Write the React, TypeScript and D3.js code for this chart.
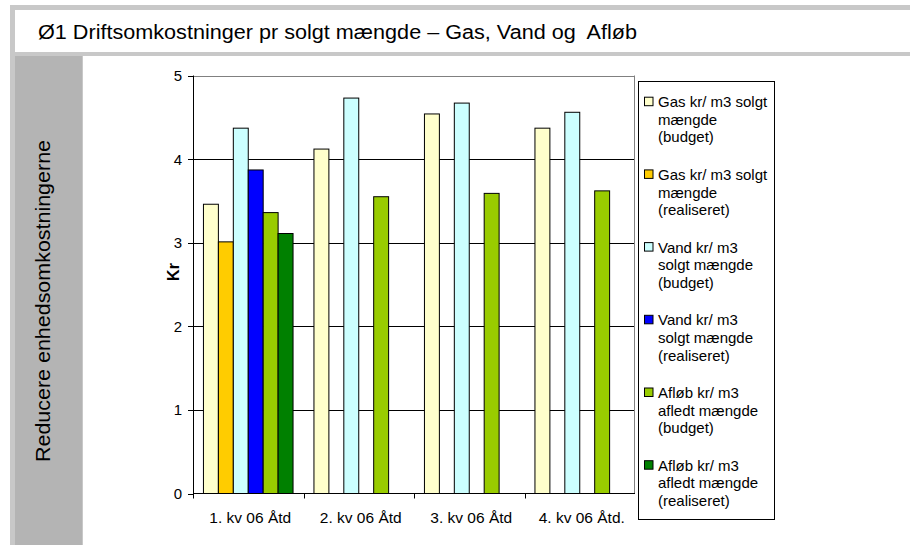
import * as d3 from 'd3';

const categories = ['1. kv 06 Åtd', '2. kv 06 Åtd', '3. kv 06 Åtd', '4. kv 06 Åtd.'];

const seriesNames = [
  ['Gas kr/ m3 solgt', 'mængde', '(budget)'],
  ['Gas kr/ m3 solgt', 'mængde', '(realiseret)'],
  ['Vand kr/ m3', 'solgt mængde', '(budget)'],
  ['Vand kr/ m3', 'solgt mængde', '(realiseret)'],
  ['Afløb kr/ m3', 'afledt mængde', '(budget)'],
  ['Afløb kr/ m3', 'afledt mængde', '(realiseret)'],
];

const seriesColors = ['#FFFFCC', '#FFCC00', '#CCFFFF', '#0000FF', '#99CC00', '#008000'];

// one array per series, null = no value for that quarter
const gasBudget = [3.46, 4.12, 4.54, 4.37];
const gasReal = [3.01, null, null, null];
const vandBudget = [4.37, 4.73, 4.67, 4.56];
const vandReal = [3.87, null, null, null];
const aflobBudget = [3.36, 3.55, 3.59, 3.62];
const aflobReal = [3.11, null, null, null];

const seriesValues = [gasBudget, gasReal, vandBudget, vandReal, aflobBudget, aflobReal];

const yTicks = [0, 1, 2, 3, 4, 5];

const FONT = 'Liberation Sans, Arial, sans-serif';

export default function App() {
  const W = 910;
  const H = 545;

  // ─── Plot area ───────────────────────────────
  const left = 193;
  const right = 635;
  const top = 75.5;
  const bottom = 493.5;

  const x = d3.scaleBand<string>().domain(categories).range([left, right]);
  const xInner = d3
    .scaleBand<number>()
    .domain(d3.range(seriesValues.length))
    .range([0, x.bandwidth()])
    .paddingInner(0)
    .paddingOuter(0.7);
  const y = d3.scaleLinear().domain([0, 5]).range([bottom, top]);

  // legend layout
  const legX = 638.5;
  const legY = 81.5;
  const legW = 136;
  const legH = 438;
  const itemStep = 72.7;
  const lineH = 17.6;

  return (
    <svg
      width={W}
      height={H}
      style={{ position: 'fixed', left: 0, top: 0, display: 'block', background: '#fff' }}
      fontFamily={FONT}
    >
      {/* ─── Slide frame ─── */}
      <rect x={10} y={5} width={W - 10} height={H - 5} fill="#c8c8c8" />
      <rect x={15} y={10} width={W - 15} height={42} fill="#fff" />
      <rect x={15} y={56} width={67} height={H - 56} fill="#b4b4b4" />
      <rect x={83} y={56} width={W - 83} height={H - 56} fill="#fff" />

      <text x={38} y={38.5} fontSize={20} fill="#000" xmlSpace="preserve" textLength={599} lengthAdjust="spacingAndGlyphs">
        Ø1 Driftsomkostninger pr solgt mængde – Gas, Vand og  Afløb
      </text>
      <text
        transform={`translate(50, 301) rotate(-90)`}
        textAnchor="middle"
        fontSize={21}
        fill="#000"
        textLength={322}
        lengthAdjust="spacingAndGlyphs"
      >
        Reducere enhedsomkostningerne
      </text>

      {/* ─── Gridlines ─── */}
      {yTicks.slice(1).map((t) => (
        <line
          key={'g' + t}
          x1={left}
          x2={right}
          y1={Math.round(y(t)) + 0.5}
          y2={Math.round(y(t)) + 0.5}
          stroke={t === 5 ? '#808080' : '#000'}
          strokeWidth={1}
        />
      ))}
      <line x1={right - 0.5} x2={right - 0.5} y1={y(5)} y2={bottom} stroke="#808080" />

      {/* ─── Bars ─── */}
      {seriesValues.map((vals, si) =>
        vals.map((v, ci) =>
          v == null ? null : (
            <rect
              key={si + '-' + ci}
              x={(x(categories[ci]) ?? 0) + (xInner(si) ?? 0)}
              y={y(v)}
              width={xInner.bandwidth()}
              height={bottom - y(v)}
              fill={seriesColors[si]}
              stroke="#000"
              strokeWidth={1}
            />
          )
        )
      )}

      {/* ─── Axes ─── */}
      <line x1={left + 0.5} x2={left + 0.5} y1={top} y2={bottom + 5} stroke="#000" />
      <line x1={left} x2={right} y1={bottom} y2={bottom} stroke="#000" />
      {yTicks.map((t) => (
        <g key={'y' + t}>
          <line
            x1={left - 5}
            x2={left}
            y1={Math.round(y(t)) + 0.5}
            y2={Math.round(y(t)) + 0.5}
            stroke="#000"
          />
          <text x={left - 11} y={y(t) + 5.5} textAnchor="end" fontSize={15} fill="#000">
            {t}
          </text>
        </g>
      ))}
      {categories.map((c, i) => (
        <g key={c}>
          {i > 0 && (
            <line
              x1={Math.round(x(c) ?? 0) + 0.5}
              x2={Math.round(x(c) ?? 0) + 0.5}
              y1={bottom}
              y2={bottom + 5}
              stroke="#000"
            />
          )}
          <text
            x={(x(c) ?? 0) + x.bandwidth() / 2 + 2}
            y={522.5}
            textAnchor="middle"
            fontSize={15.5}
            fill="#000"
          >
            {c}
          </text>
        </g>
      ))}
      <text
        transform={`translate(179, 272) rotate(-90)`}
        textAnchor="middle"
        fontSize={16}
        fontWeight="bold"
        fill="#000"
      >
        Kr
      </text>

      {/* ─── Legend ─── */}
      <rect x={legX} y={legY} width={legW} height={legH} fill="#fff" stroke="#000" />
      {seriesNames.map((lines, i) => {
        const cy = 101.7 + i * itemStep;
        return (
          <g key={'l' + i}>
            <rect
              x={644.5}
              y={cy - 4.5}
              width={8.5}
              height={8.5}
              fill={seriesColors[i]}
              stroke="#000"
            />
            {lines.map((ln, j) => (
              <text key={j} x={658} y={cy + 5.5 + j * lineH} fontSize={15} fill="#000">
                {ln}
              </text>
            ))}
          </g>
        );
      })}
    </svg>
  );
}
